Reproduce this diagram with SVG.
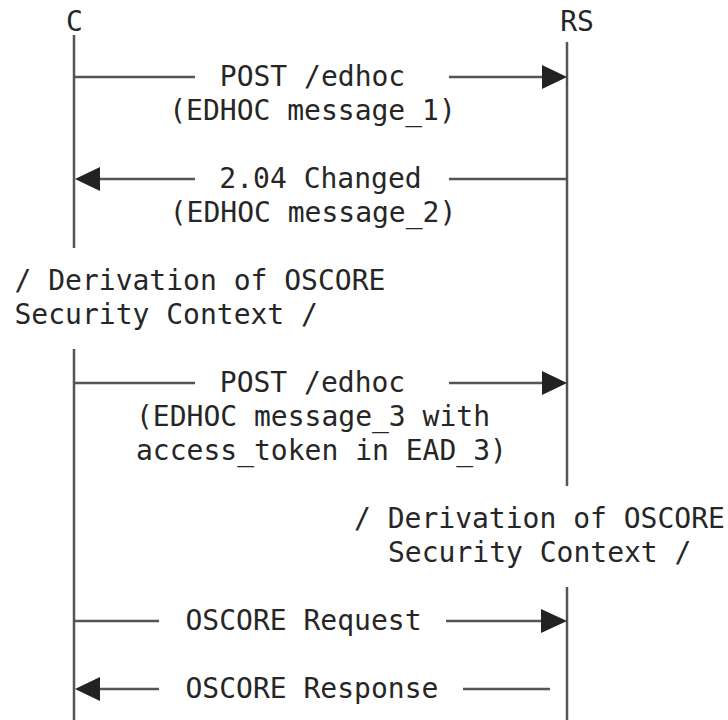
<svg xmlns="http://www.w3.org/2000/svg" width="728" height="720" viewBox="0 0 728 720">
  <style>
    text { font-family: "DejaVu Sans Mono", "Liberation Mono", monospace; font-size: 28px; fill: #262626; }
    .mid { text-anchor: middle; }
    .life { stroke: #555; stroke-width: 2.5; fill: none; }
    .msg { stroke: #555; stroke-width: 2.5; fill: none; }
    .head { fill: #222; stroke: none; }
  </style>
  <rect width="728" height="720" fill="#fff"/>

  <!-- participant C -->
  <g id="client">
    <text class="mid" x="74.5" y="31">C</text>
    <path class="life" d="M74 35V248M74 349V720"/>
  </g>

  <!-- participant RS -->
  <g id="resource-server">
    <text class="mid" x="577" y="31">RS</text>
    <path class="life" d="M567 42V486M567 587V720"/>
  </g>

  <!-- local actions -->
  <g id="note-client-derivation">
    <text x="14.5" y="290">/ Derivation of OSCORE</text>
    <text x="14.5" y="324">Security Context /</text>
  </g>
  <g id="note-rs-derivation">
    <text x="354" y="528">/ Derivation of OSCORE</text>
    <text x="388" y="562">Security Context /</text>
  </g>

  <!-- messages -->
  <g id="connectors">
    <g id="msg1">
      <path class="msg" d="M74 77H195M449 77H544"/>
      <path class="head" d="M567 77L542 65V89Z"/>
      <text class="mid" x="312.5" y="86">POST /edhoc</text>
      <text class="mid" x="312.5" y="120">(EDHOC message_1)</text>
    </g>
    <g id="msg2">
      <path class="msg" d="M97 179H195M449 179H567"/>
      <path class="head" d="M75 179L100 167V191Z"/>
      <text class="mid" x="320.5" y="188">2.04 Changed</text>
      <text class="mid" x="313" y="222">(EDHOC message_2)</text>
    </g>
    <g id="msg3">
      <path class="msg" d="M74 383H195M449 383H544"/>
      <path class="head" d="M567 383L542 371V395Z"/>
      <text class="mid" x="312.5" y="392">POST /edhoc</text>
      <text x="136" y="426">(EDHOC message_3 with</text>
      <text x="136" y="460">access_token in EAD_3)</text>
    </g>
    <g id="msg4">
      <path class="msg" d="M74 621H159M446 621H544"/>
      <path class="head" d="M567 621L541 609V633Z"/>
      <text x="185.5" y="630">OSCORE Request</text>
    </g>
    <g id="msg5">
      <path class="msg" d="M97 689H159M463 689H550"/>
      <path class="head" d="M75 689L100 677V701Z"/>
      <text x="185.5" y="698">OSCORE Response</text>
    </g>
  </g>
</svg>
